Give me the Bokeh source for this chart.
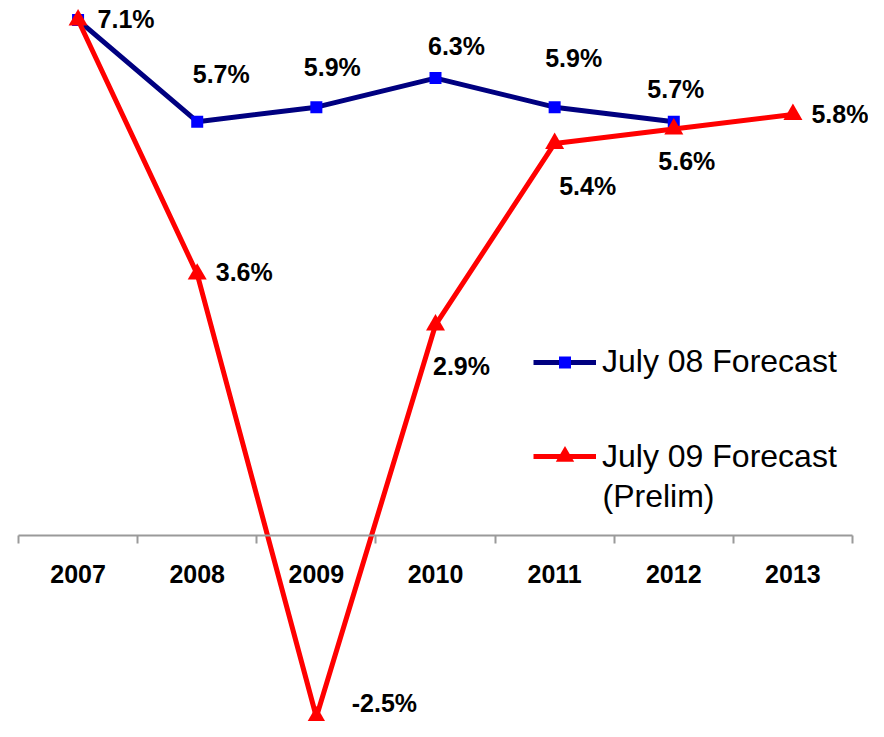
from bokeh.plotting import figure
from bokeh.models import (Range1d, LinearAxis, FixedTicker, ColumnDataSource,
                          Legend, LegendItem, Label)
from bokeh.core.properties import value
from bokeh.embed import file_html
from bokeh.resources import INLINE

# ---------------- data ----------------
years = ["2007", "2008", "2009", "2010", "2011", "2012", "2013"]
july08_forecast = [7.1, 5.7, 5.9, 6.3, 5.9, 5.7]
july09_forecast = [7.1, 3.6, -2.5, 2.9, 5.4, 5.6, 5.8]
series_names = ["July 08 Forecast", "July 09 Forecast"]
legend_note = "(Prelim)"

# ---------------- label placement (screen px offsets) ----------------
july08_dx = [None, 24, 16, 21, 19, 2]
july08_dy = [None, -48, -40, -32, -49, -33]
july09_dx = [48, 47, 68, 26, 33, 13, 47]
july09_dy = [-1, -2, -14, 41, 43, 32, 0]

FONT = "Liberation Sans"
AXIS_GRAY = "#9a9a9a"

idx = list(range(len(years)))

p = figure(width=868, height=721, output_backend="svg", toolbar_location=None,
           x_range=Range1d(-0.6511, 6.6343), y_range=Range1d(-2.562, 7.369),
           x_axis_location=None, y_axis_location=None, min_border=0,
           outline_line_color=None, background_fill_color="white")
p.grid.visible = False

# category boundary ticks + axis line at zero
bounds_ticks = [i - 0.5 for i in range(len(years) + 1)]
tick_axis = LinearAxis(fixed_location=0, ticker=FixedTicker(ticks=bounds_ticks),
                       bounds=(-0.5, len(years) - 0.5),
                       axis_line_color=AXIS_GRAY, axis_line_width=2,
                       major_tick_line_color=AXIS_GRAY, major_tick_line_width=2,
                       major_tick_in=0, major_tick_out=8,
                       minor_tick_line_color=None, major_label_text_color=None)
year_axis = LinearAxis(fixed_location=0, ticker=FixedTicker(ticks=idx),
                       axis_line_color=None, major_tick_line_color=None,
                       major_tick_in=0, major_tick_out=0, minor_tick_line_color=None,
                       major_label_overrides={i: y for i, y in enumerate(years)},
                       major_label_standoff=30,
                       major_label_text_font=FONT, major_label_text_font_style="bold",
                       major_label_text_font_size="25px", major_label_text_color="black")
p.add_layout(tick_axis, "below")
p.add_layout(year_axis, "below")

x08 = idx[:len(july08_forecast)]
b_line = p.line(x08, july08_forecast, line_color="#000080", line_width=5, line_join="round")
b_pts = p.scatter(x08, july08_forecast, marker="square", size=12,
                  fill_color="#0000FF", line_color=None)
r_line = p.line(idx, july09_forecast, line_color="#FF0000", line_width=5, line_join="round")
r_pts = p.scatter(idx, july09_forecast, marker="triangle", size=19,
                  fill_color="#FF0000", line_color=None)


def add_labels(xs, vals, dxs, dys):
    keep = [i for i, d in enumerate(dxs) if d is not None]
    src = ColumnDataSource(dict(
        x=[xs[i] for i in keep],
        y=[vals[i] for i in keep],
        t=[f"{vals[i]:.1f}%" for i in keep],
        dx=[dxs[i] for i in keep],
        dy=[dys[i] for i in keep],
    ))
    p.text(x="x", y="y", text="t", x_offset="dx", y_offset="dy", source=src,
           text_align="center", text_baseline="middle",
           text_font=value(FONT), text_font_style="bold",
           text_font_size="25px", text_color="black")


add_labels(x08, july08_forecast, july08_dx, july08_dy)
add_labels(idx, july09_forecast, july09_dx, july09_dy)

common = dict(glyph_width=63, label_standoff=6, padding=0, margin=0, spacing=0,
              border_line_color=None, background_fill_alpha=0,
              label_text_font=FONT, label_text_font_size="32px",
              label_text_color="black")
leg1 = Legend(items=[LegendItem(label=series_names[0], renderers=[b_line, b_pts])],
              location=(533, 341), glyph_height=30, label_height=30, **common)
leg2 = Legend(items=[LegendItem(label=series_names[1], renderers=[r_line, r_pts])],
              location=(533, 242), glyph_height=46, label_height=46, **common)
p.add_layout(leg1)
p.add_layout(leg2)

note = Label(x=602, y=226, x_units="screen", y_units="screen", text=legend_note,
             text_font=FONT, text_font_size="32px", text_baseline="middle",
             text_align="left", text_color="black")
p.add_layout(note)

open("out.html", "w").write(file_html(p, INLINE))
